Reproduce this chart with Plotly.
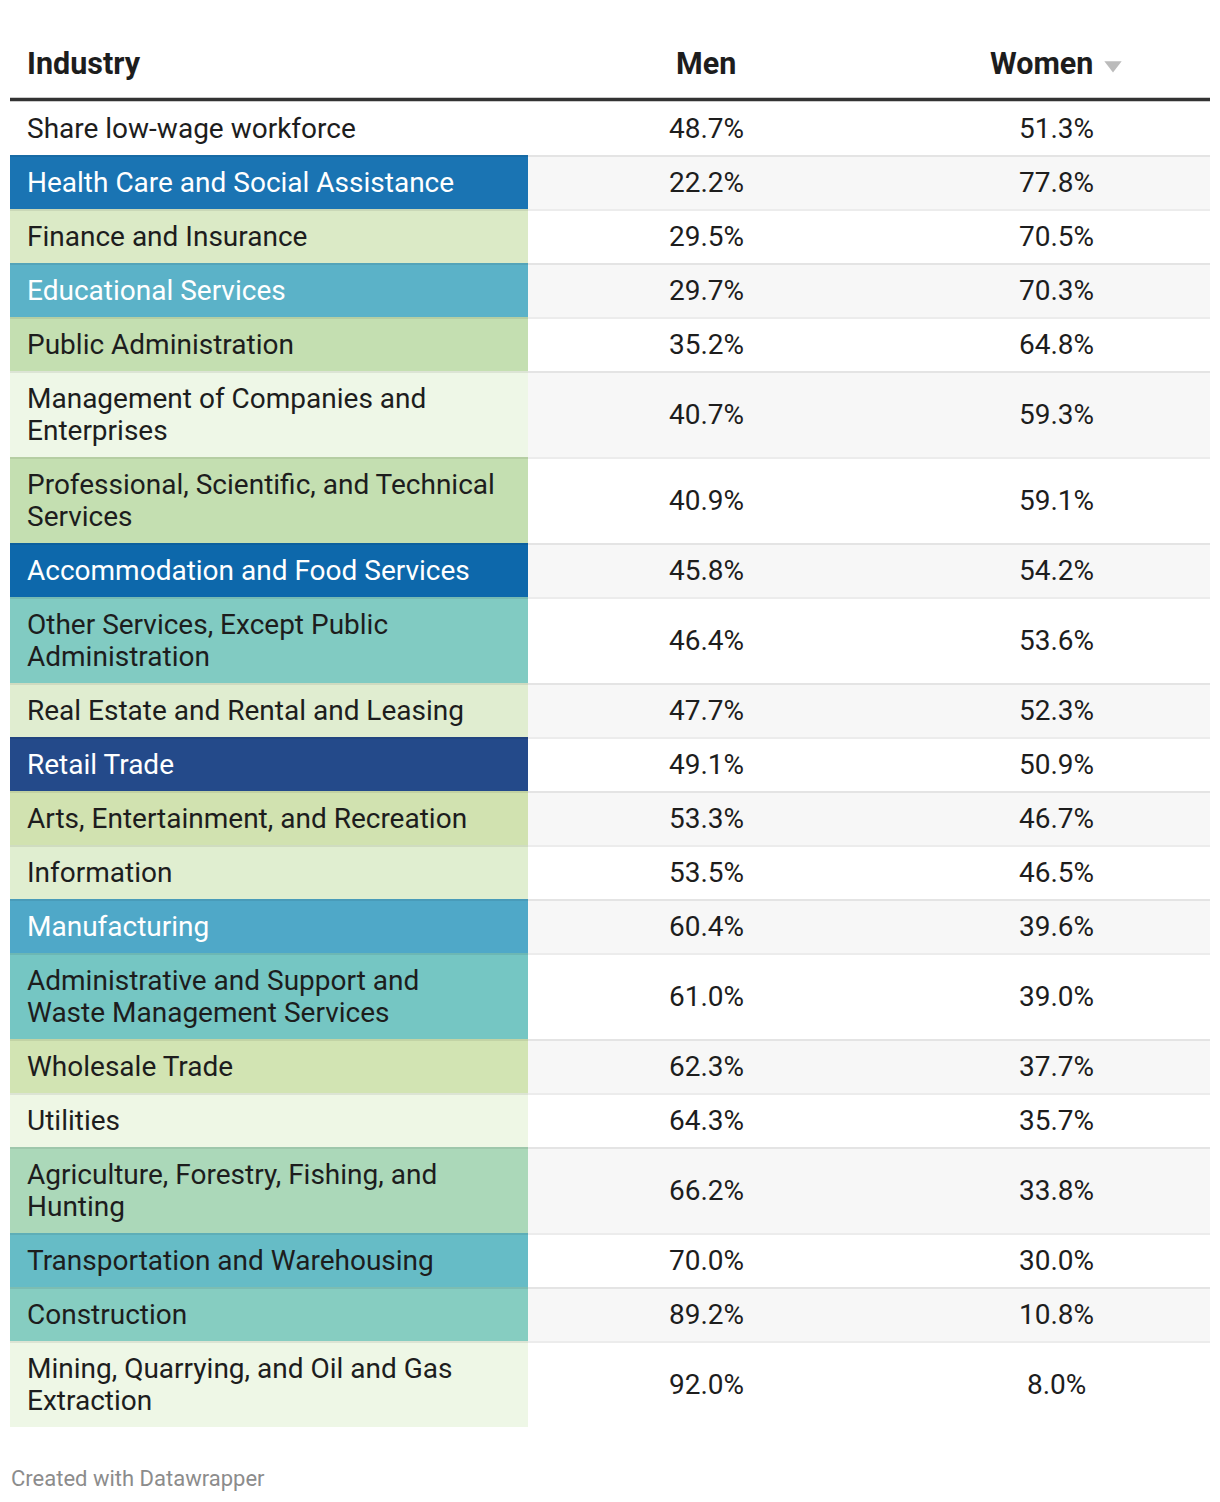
import plotly.graph_objects as go

# ---------------- data ----------------
industries = [
    "Share low-wage workforce",
    "Health Care and Social Assistance",
    "Finance and Insurance",
    "Educational Services",
    "Public Administration",
    "Management of Companies and<br>Enterprises",
    "Professional, Scientific, and Technical<br>Services",
    "Accommodation and Food Services",
    "Other Services, Except Public<br>Administration",
    "Real Estate and Rental and Leasing",
    "Retail Trade",
    "Arts, Entertainment, and Recreation",
    "Information",
    "Manufacturing",
    "Administrative and Support and<br>Waste Management Services",
    "Wholesale Trade",
    "Utilities",
    "Agriculture, Forestry, Fishing, and<br>Hunting",
    "Transportation and Warehousing",
    "Construction",
    "Mining, Quarrying, and Oil and Gas<br>Extraction",
]
men = [48.7, 22.2, 29.5, 29.7, 35.2, 40.7, 40.9, 45.8, 46.4, 47.7, 49.1,
       53.3, 53.5, 60.4, 61.0, 62.3, 64.3, 66.2, 70.0, 89.2, 92.0]
women = [51.3, 77.8, 70.5, 70.3, 64.8, 59.3, 59.1, 54.2, 53.6, 52.3, 50.9,
         46.7, 46.5, 39.6, 39.0, 37.7, 35.7, 33.8, 30.0, 10.8, 8.0]
column_headers = ["Industry", "Men", "Women"]
cell_colors = [
    "#ffffff", "#1a74b3", "#dbeac6", "#5bb2c8", "#c4dfb1", "#eef7e7",
    "#c4dfb1", "#0d68ab", "#81cbc2", "#e0edd0", "#244a8a", "#d1e2b0",
    "#e0eed0", "#4fa8c8", "#75c6c3", "#d2e4b3", "#eef7e5", "#abd8b9",
    "#66bcc6", "#86cdc1", "#eef7e6",
]
label_colors = [
    "#1d1d1d", "#ffffff", "#1d1d1d", "#ffffff", "#1d1d1d", "#1d1d1d",
    "#1d1d1d", "#ffffff", "#1d1d1d", "#1d1d1d", "#ffffff", "#1d1d1d",
    "#1d1d1d", "#ffffff", "#1d1d1d", "#1d1d1d", "#1d1d1d", "#1d1d1d",
    "#1d1d1d", "#1d1d1d", "#1d1d1d",
]
footer = "Created with Datawrapper"

# ---------------- layout constants (page pixel units) ----------------
PAGE_W, PAGE_H = 1220, 1502
BODY_MARGIN = 8
LEFT, RIGHT, IND_RIGHT = 10, 1210, 528
LABEL_X = 26
MEN_X, WOMEN_X = 706, 1056
HEADER_Y = 63
HEADER_LINE_Y = 99.5
FIRST_ROW_TOP = 101
ROW_H, LINE_H = 54, 32
FONT = "Roboto"
TEXT = "#1d1d1d"
BODY_SIZE = 28

# row geometry derived from the number of lines in each label
tops, centers, bottoms = [], [], []
y = FIRST_ROW_TOP
for lab in industries:
    n = lab.count("<br>") + 1
    h = ROW_H + LINE_H * (n - 1)
    tops.append(y)
    centers.append(y + h / 2)
    bottoms.append(y + h)
    y += h

shapes = []
annotations = []

for i, lab in enumerate(industries):
    t, b = tops[i], bottoms[i]
    if i % 2 == 1:
        shapes.append(dict(type="rect", xref="x", yref="y", x0=IND_RIGHT, x1=RIGHT,
                           y0=t, y1=b, fillcolor="#f7f7f7", line_width=0, layer="below"))
    shapes.append(dict(type="rect", xref="x", yref="y", x0=LEFT, x1=IND_RIGHT,
                       y0=t, y1=b, fillcolor=cell_colors[i], line_width=0, layer="below"))
for i in range(1, len(industries)):
    shapes.append(dict(type="line", xref="x", yref="y", x0=LEFT, x1=RIGHT,
                       y0=tops[i] + 1, y1=tops[i] + 1,
                       line=dict(color="rgba(0,0,0,0.075)", width=2), layer="below"))

# header rule
shapes.append(dict(type="line", xref="x", yref="y", x0=LEFT, x1=RIGHT,
                   y0=HEADER_LINE_Y, y1=HEADER_LINE_Y,
                   line=dict(color="#333333", width=3.5)))

def ann(x, y, text, anchor, font):
    return dict(x=x, y=y, xref="x", yref="y", text=text, showarrow=False,
                xanchor=anchor, yanchor="middle", align=anchor if anchor != "center" else "center",
                font=font, borderpad=0)

# headers
hfont = dict(family=FONT, size=30.5, color="#1d1d1d", weight=700)
annotations.append(ann(LABEL_X, HEADER_Y, column_headers[0], "left", hfont))
annotations.append(ann(MEN_X, HEADER_Y, column_headers[1], "center", hfont))
annotations.append(ann(WOMEN_X - 15, HEADER_Y, column_headers[2], "center", hfont))

# industry labels: one annotation per text line for Datawrapper-like line height
for i, lab in enumerate(industries):
    lines = lab.split("<br>")
    n = len(lines)
    for k, line in enumerate(lines):
        ly = centers[i] + (k - (n - 1) / 2) * LINE_H
        annotations.append(ann(LABEL_X, ly, line, "left",
                               dict(family=FONT, size=BODY_SIZE, color=label_colors[i])))

# value cells
vfont = dict(family=FONT, size=BODY_SIZE, color=TEXT)
for i in range(len(industries)):
    annotations.append(ann(MEN_X, centers[i], f"{men[i]:.1f}%", "center", vfont))
    annotations.append(ann(WOMEN_X, centers[i], f"{women[i]:.1f}%", "center", vfont))

# footer
annotations.append(ann(LEFT, 1478, footer, "left",
                       dict(family=FONT, size=22, color="#8c8c8c")))

fig = go.Figure()
# sort indicator triangle
fig.add_trace(go.Scatter(x=[WOMEN_X + 57], y=[HEADER_Y + 2], mode="markers",
                         marker=dict(symbol="triangle-down", size=15, color="#bbbbbb"),
                         hoverinfo="skip", showlegend=False))

fig.update_layout(
    width=PAGE_W - BODY_MARGIN, height=PAGE_H - BODY_MARGIN,
    margin=dict(l=0, r=0, t=0, b=0),
    paper_bgcolor="white", plot_bgcolor="white",
    xaxis=dict(range=[BODY_MARGIN, PAGE_W], visible=False, fixedrange=True),
    yaxis=dict(range=[PAGE_H, BODY_MARGIN], visible=False, fixedrange=True),
    shapes=shapes, annotations=annotations,
)
fig.write_html("out.html")
